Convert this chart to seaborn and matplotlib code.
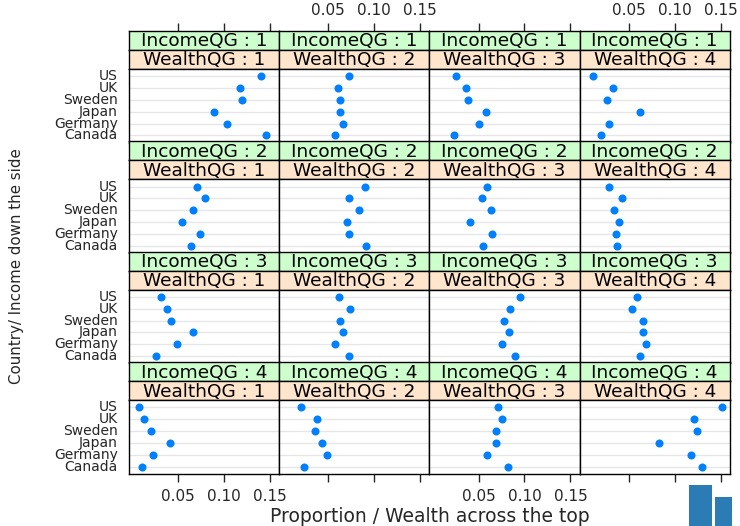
import numpy as np
import pandas as pd
import matplotlib
matplotlib.use("Agg")
import matplotlib.pyplot as plt
import seaborn as sns
from matplotlib.patches import Rectangle

countries = ["US", "UK", "Sweden", "Japan", "Germany", "Canada"]
income_groups = [1, 2, 3, 4]
wealth_groups = [1, 2, 3, 4]

# values per (income, wealth) cell, over countries (US, UK, Sweden, Japan, Germany, Canada)
inc1_w1 = [0.140, 0.117, 0.120, 0.089, 0.103, 0.146]
inc1_w2 = [0.072, 0.060, 0.063, 0.063, 0.066, 0.057]
inc1_w3 = [0.025, 0.036, 0.039, 0.058, 0.051, 0.023]
inc1_w4 = [0.011, 0.033, 0.026, 0.062, 0.028, 0.020]

inc2_w1 = [0.071, 0.079, 0.066, 0.054, 0.074, 0.064]
inc2_w2 = [0.090, 0.072, 0.083, 0.070, 0.072, 0.091]
inc2_w3 = [0.059, 0.054, 0.064, 0.041, 0.065, 0.055]
inc2_w4 = [0.029, 0.043, 0.034, 0.039, 0.036, 0.037]

inc3_w1 = [0.031, 0.038, 0.042, 0.066, 0.049, 0.026]
inc3_w2 = [0.062, 0.074, 0.063, 0.066, 0.057, 0.072]
inc3_w3 = [0.095, 0.084, 0.078, 0.083, 0.075, 0.090]
inc3_w4 = [0.059, 0.053, 0.065, 0.066, 0.069, 0.062]

inc4_w1 = [0.007, 0.013, 0.020, 0.041, 0.023, 0.011]
inc4_w2 = [0.020, 0.038, 0.035, 0.043, 0.049, 0.024]
inc4_w3 = [0.071, 0.075, 0.069, 0.069, 0.059, 0.082]
inc4_w4 = [0.151, 0.121, 0.124, 0.083, 0.118, 0.130]

table = {
    1: [inc1_w1, inc1_w2, inc1_w3, inc1_w4],
    2: [inc2_w1, inc2_w2, inc2_w3, inc2_w4],
    3: [inc3_w1, inc3_w2, inc3_w3, inc3_w4],
    4: [inc4_w1, inc4_w2, inc4_w3, inc4_w4],
}
rows = []
for inc in income_groups:
    for wi, w in enumerate(wealth_groups):
        for c, v in zip(countries, table[inc][wi]):
            rows.append({"IncomeQG": inc, "WealthQG": w, "Country": c, "Proportion": v})
df = pd.DataFrame(rows)

tick_vals = [0.05, 0.10, 0.15]
tick_labels = ["0.05", "0.10", "0.15"]

sns.set_style("white")
plt.rcParams["font.family"] = ["DejaVu Sans"]

W, H = 740, 526
fig = plt.figure(figsize=(W / 100, H / 100), dpi=100)

col_left = 129.0
col_w = 150.2
top0 = 31.0
block = 110.4
strip_h = 19.0
panel_h = 73.5
xlim = (-0.0035, 0.160)

def fx(px):
    return px / W

def fy(py):
    return 1 - py / H

dot_color = "#0080ff"
green = "#ccffcc"
peach = "#ffe5cc"

for r, inc in enumerate(income_groups):
    y_block = top0 + block * r
    for c, w in enumerate(wealth_groups):
        x0 = col_left + col_w * c
        # strips
        ax_i = fig.add_axes([fx(x0), fy(y_block + strip_h), col_w / W, strip_h / H])
        ax_w = fig.add_axes([fx(x0), fy(y_block + 2 * strip_h), col_w / W, strip_h / H])
        for sax, col, txt in [(ax_i, green, f"IncomeQG : {inc}"), (ax_w, peach, f"WealthQG : {w}")]:
            sax.set_facecolor(col)
            sax.set_xlim(*xlim)
            sax.set_ylim(0, 1)
            sax.set_yticks([])
            sax.set_xticks([])
            for sp in sax.spines.values():
                sp.set_color("black")
                sp.set_linewidth(1.0)
            sax.text(0.5, 0.45, txt, transform=sax.transAxes, ha="center", va="center",
                     fontsize=13.3, color="black")
        # top ticks on top strip of first row
        if r == 0:
            ax_i.set_xticks(tick_vals)
            ax_i.xaxis.set_ticks_position("top")
            ax_i.tick_params(axis="x", direction="out", length=6, width=1, pad=3.5,
                             labelsize=11, top=True, bottom=False,
                             labeltop=(c % 2 == 1), labelbottom=False)
            ax_i.set_xticklabels(tick_labels)
        # panel
        ax = fig.add_axes([fx(x0), fy(y_block + 2 * strip_h + panel_h), col_w / W, panel_h / H])
        sub = df[(df.IncomeQG == inc) & (df.WealthQG == w)]
        for k in range(len(countries)):
            ax.axhline(k, color="#e6e6e6", lw=1.0, zorder=0)
        sns.stripplot(data=sub, x="Proportion", y="Country", order=countries, jitter=False,
                      color=dot_color, size=5.8, linewidth=0, ax=ax, zorder=3)
        ax.set_xlim(*xlim)
        ax.set_ylim(len(countries) - 0.4, -0.6)
        ax.set_xlabel("")
        ax.set_ylabel("")
        ax.set_facecolor("white")
        for sp in ax.spines.values():
            sp.set_visible(True)
            sp.set_color("black")
            sp.set_linewidth(1.0)
        if c == 0:
            ax.tick_params(axis="y", length=0, pad=8, labelsize=10)
            ax.set_yticklabels(countries, va="center")
        else:
            ax.set_yticks([])
        if r == len(income_groups) - 1:
            ax.set_xticks(tick_vals)
            ax.tick_params(axis="x", direction="out", length=6, width=1, pad=5,
                           labelsize=11, bottom=True, labelbottom=(c % 2 == 0))
            ax.set_xticklabels(tick_labels)
        else:
            ax.set_xticks([])

fig.text(fx(430), fy(517), "Proportion / Wealth across the top", ha="center", va="center",
         fontsize=13.5)
fig.text(fx(17), fy(266), "Country/ Income down the side", ha="center", va="center",
         rotation=90, fontsize=10.8)

# decorative logo bars in the corner
fig.patches.append(Rectangle((fx(689), 0), 23 / W, (526 - 485) / H, transform=fig.transFigure,
                             facecolor="#2b7bb4", edgecolor="none"))
fig.patches.append(Rectangle((fx(715), 0), 17 / W, (526 - 497) / H, transform=fig.transFigure,
                             facecolor="#2b7bb4", edgecolor="none"))

fig.savefig("out.png", dpi=100)
